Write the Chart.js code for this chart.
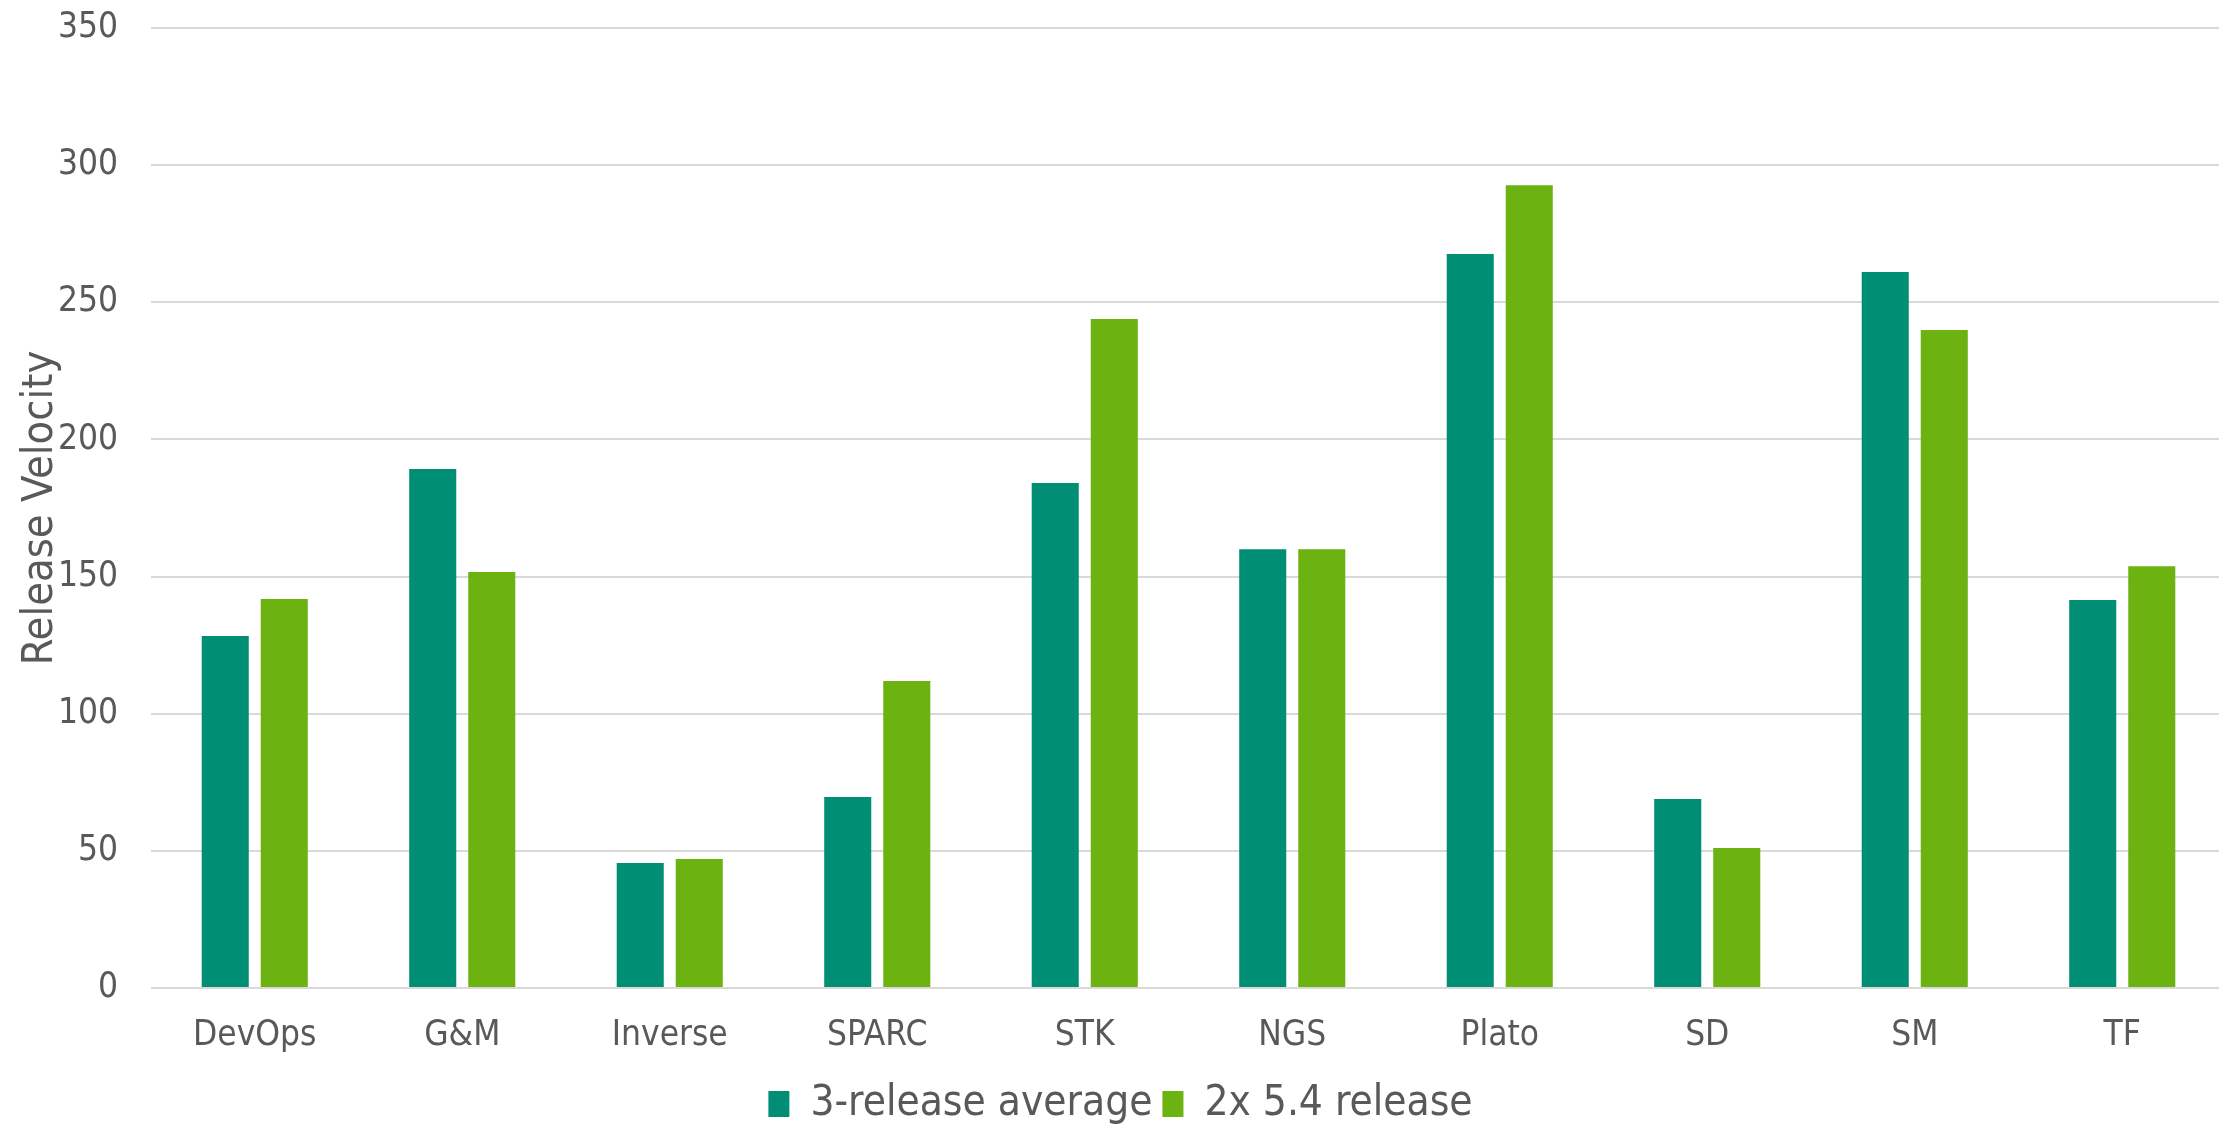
<!DOCTYPE html>
<html>
<head>
<meta charset="utf-8">
<script src="https://cdn.jsdelivr.net/npm/chart.js@4.4.1/dist/chart.umd.min.js"></script>
<style>
  html, body { margin: 0; padding: 0; background: #fff; overflow: hidden; }
  #wrap { width: 2219px; height: 1127px; overflow: hidden; }
</style>
</head>
<body>
<div id="wrap"><canvas id="myChart" width="2226" height="1127"></canvas></div>
<script>
// chart data
const categories = ['DevOps', 'G&M', 'Inverse', 'SPARC', 'STK', 'NGS', 'Plato', 'SD', 'SM', 'TF'];
const avgValues = [128.3, 189.2, 45.6, 69.6, 184.1, 160, 267.6, 68.9, 261, 141.5];
const releaseValues = [141.8, 151.7, 47, 111.9, 243.9, 160, 292.7, 51, 239.9, 153.8];
const seriesNames = ['3-release average', '2x 5.4 release'];
const yTicks = [0, 50, 100, 150, 200, 250, 300, 350];

const textColor = '#595959';
const fontFamily = '"DejaVu Sans Condensed", "DejaVu Sans", sans-serif';

function drawChart() {
	var ctx = document.getElementById('myChart').getContext('2d');

	var myChart = new Chart(ctx, {
		type: 'bar',
		data: {
			labels: categories,
			datasets: [{
				label: seriesNames[0],
				data: avgValues,
				backgroundColor: '#008e74'
			}, {
				label: seriesNames[1],
				data: releaseValues,
				backgroundColor: '#6cb312'
			}]
		},
		options: {
			responsive: false,
			animation: false,
			devicePixelRatio: 1,
			categoryPercentage: 0.569,
			barPercentage: 0.797,
			layout: { padding: { top: 0, left: 15, right: 0, bottom: -8 } },
			plugins: {
				tooltip: { enabled: false },
				legend: {
					position: 'bottom',
					labels: {
						color: textColor,
						font: { family: fontFamily, size: 42 },
						boxWidth: 21,
						boxHeight: 26,
						padding: 10
					}
				}
			},
			scales: {
				x: {
					grid: { display: false, drawTicks: false },
					border: { display: false },
					ticks: {
						color: textColor,
						font: { family: fontFamily, size: 35 },
						padding: 27
					},
					afterFit: s => { s.height = 85; }
				},
				y: {
					min: 0,
					max: 350,
					afterBuildTicks: s => { s.ticks = yTicks.map(v => ({ value: v })); },
					afterFit: s => {
						s.width = 136;
						s.paddingTop = 28;
						s.paddingBottom = 0;
					},
					grid: { color: '#d9d9d9', lineWidth: 2, drawTicks: false },
					border: { display: false },
					ticks: {
						color: textColor,
						font: { family: fontFamily, size: 35 },
						padding: 33
					},
					title: {
						display: true,
						text: 'Release Velocity',
						color: textColor,
						font: { family: fontFamily, size: 43 },
						padding: 0
					}
				}
			}
		}
	});
}

drawChart();
</script>
</body>
</html>
